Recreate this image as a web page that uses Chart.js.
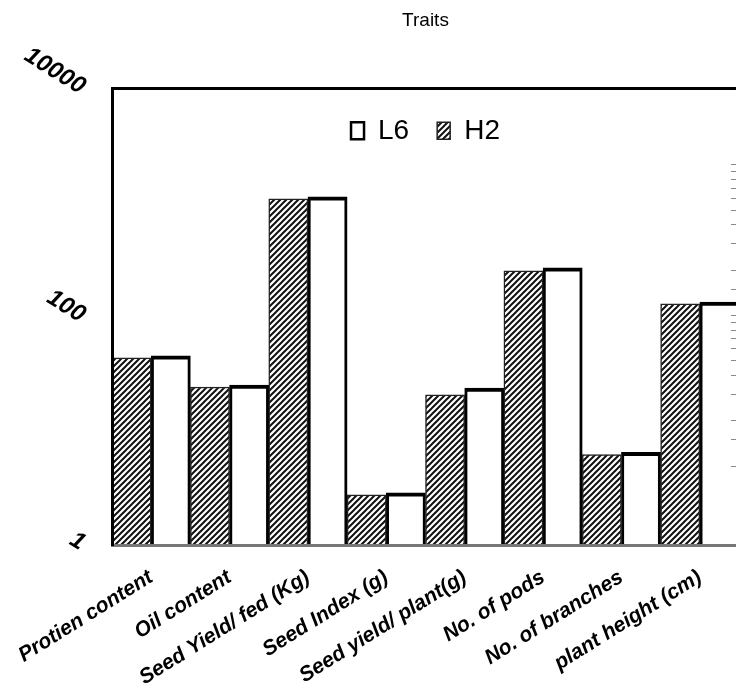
<!DOCTYPE html>
<html>
<head>
<meta charset="utf-8">
<script src="https://cdn.jsdelivr.net/npm/chart.js@4"></script>
<style>
  html, body { margin: 0; padding: 0; overflow: hidden; background: #fff; }
  #wrap { position: absolute; left: 0; top: 0; width: 740px; height: 686px; }
</style>
</head>
<body>
<div id="wrap"><canvas id="traits" width="740" height="686"></canvas></div>
<script>
// values (log scale)
const categories = [
  'Protien content',
  'Oil content',
  'Seed Yield/ fed (Kg)',
  'Seed Index (g)',
  'Seed yield/ plant(g)',
  'No. of pods',
  'No. of branches',
  'plant height (cm)'
];
const h2Values = [43.7, 24.3, 1084, 2.75, 20.7, 253, 6.2, 130];
const l6Values = [45.5, 25.3, 1130, 2.86, 23.8, 270, 6.5, 135];
const yTicks = [1, 100, 10000];
// faint secondary axis on the right edge
const rightMin = 3;
const rightMax = 3200;
const rightTickFrom = 10;
const rightTickTo = 1000;

Chart.defaults.font.family = '"Liberation Sans", Arial, sans-serif';
Chart.defaults.color = '#000';

function hatch() {
  const c = document.createElement('canvas');
  c.width = 6; c.height = 6;
  const g = c.getContext('2d');
  g.fillStyle = '#fff';
  g.fillRect(0, 0, 6, 6);
  g.strokeStyle = '#111';
  g.lineWidth = 2;
  g.beginPath();
  g.moveTo(0, 6); g.lineTo(6, 0);
  g.moveTo(-1, 1); g.lineTo(1, -1);
  g.moveTo(5, 7); g.lineTo(7, 5);
  g.stroke();
  return g.createPattern(c, 'repeat');
}

// legend takes no room in the layout, then gets its box back so it draws inside the plot
const legendInside = {
  id: 'legendInside',
  afterLayout(chart) {
    const lg = chart.legend;
    if (lg) {
      lg.height = 90;
      lg.bottom = lg.top + 90;
    }
  }
};

const ctx = document.getElementById('traits').getContext('2d');
const chart = new Chart(ctx, {
  type: 'bar',
  data: {
    labels: categories,
    datasets: [
      {
        label: 'H2',
        data: h2Values,
        backgroundColor: hatch(),
        borderColor: '#222',
        borderWidth: 1.5,
        yAxisID: 'y'
      },
      {
        label: 'L6',
        data: l6Values,
        backgroundColor: '#fff',
        borderColor: '#000',
        borderWidth: { top: 4, left: 3, right: 3, bottom: 0 },
        yAxisID: 'y'
      }
    ]
  },
  plugins: [legendInside],
  options: {
    responsive: false,
    animation: false,
    layout: { padding: 0 },
    datasets: {
      bar: { categoryPercentage: 1, barPercentage: 1 }
    },
    plugins: {
      title: {
        display: true,
        text: 'Traits',
        fullSize: false,
        font: { size: 19, weight: 'normal' },
        padding: { top: 9, bottom: 57 }
      },
      legend: {
        position: 'top',
        fullSize: false,
        align: 'center',
        maxHeight: 0.01,
        labels: {
          sort: (a, b) => b.datasetIndex - a.datasetIndex,
          font: { size: 28 },
          boxWidth: 13,
          boxHeight: 17,
          padding: 28,
          color: '#000'
        }
      },
      tooltip: { enabled: false }
    },
    scales: {
      x: {
        type: 'category',
        grid: { display: false, drawTicks: false },
        border: { display: true, color: '#777', width: 3, z: 1 },
        ticks: {
          autoSkip: false,
          minRotation: 32,
          maxRotation: 32,
          padding: 20,
          color: '#000',
          font: { size: 21, weight: 'bold', style: 'italic' }
        },
        afterFit: (s) => { s.height = 141; s.paddingLeft = 0; s.paddingRight = 0; }
      },
      xTop: {
        type: 'linear',
        position: 'top',
        min: 0, max: 1,
        grid: { display: false, drawTicks: false },
        ticks: { display: false },
        border: { display: true, color: '#000', width: 3, z: 1 },
        afterFit: (s) => { s.height = 0; }
      },
      y: {
        type: 'logarithmic',
        min: 1,
        max: 10000,
        grid: { display: false, drawTicks: false },
        border: { display: true, color: '#000', width: 3, z: 1 },
        afterBuildTicks: (s) => { s.ticks = yTicks.map(v => ({ value: v })); },
        ticks: {
          minRotation: -32,
          maxRotation: -32,
          padding: 29,
          color: '#000',
          font: { size: 24, weight: 'bold', style: 'italic' },
          callback: (v) => String(v)
        },
        afterFit: (s) => { s.width = 112; }
      },
      yRight: {
        type: 'logarithmic',
        position: 'right',
        min: rightMin,
        max: rightMax,
        grid: {
          display: true,
          drawOnChartArea: false,
          drawTicks: true,
          tickLength: -8,
          color: '#888',
          tickColor: '#888',
          tickWidth: 1,
          z: 2
        },
        border: { display: false },
        afterBuildTicks: (s) => {
          s.ticks = s.ticks.filter(t => t.value >= rightTickFrom && t.value <= rightTickTo);
        },
        ticks: { display: false, autoSkip: false },
        afterFit: (s) => { s.width = 1; }
      }
    }
  }
});
</script>
</body>
</html>
